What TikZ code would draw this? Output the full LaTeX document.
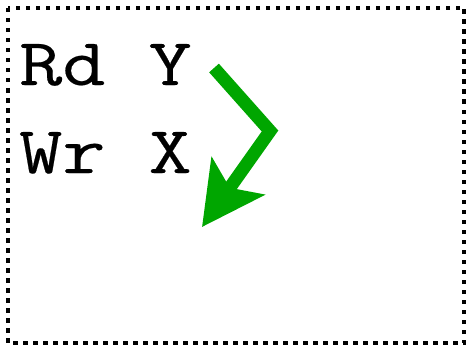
\documentclass[tikz,border=0pt]{standalone}
\usepackage{fontspec}
\newfontfamily\codefont{Latin Modern Mono}[FakeStretch=1.25, FakeBold=0.3]
\usepackage{xcolor}
\definecolor{flow}{RGB}{0,166,0}
\usetikzlibrary{arrows.meta, positioning}

\begin{document}
\begin{tikzpicture}[
        x=1pt, y=-1pt,
        frame/.style={draw=black, line width=4.5pt, dash pattern=on 4.5pt off 5.5pt},
        instr/.style={anchor=base west, inner sep=0pt, font=\codefont\fontsize{67}{67}\selectfont},
        order/.style={draw=flow, line width=13pt, -{Stealth[length=62pt, width=64pt, inset=14pt]}}
    ]
        \useasboundingbox (0,0) rectangle (470,350);

        % Frame
        \draw[frame] (8,8) rectangle (464,343);

        % Instructions
        \node[instr] (rd) at (19,85) {Rd Y};
        \node[instr] (wr) at (19,173) {Wr X};

        % Reordering arrow
        \coordinate (from) at (214,68);
        \coordinate (bend) at (270,131);
        \coordinate (to) at (202,227);
        \draw[order] (from) -- (bend) -- (to);
    \end{tikzpicture}
\end{document}
